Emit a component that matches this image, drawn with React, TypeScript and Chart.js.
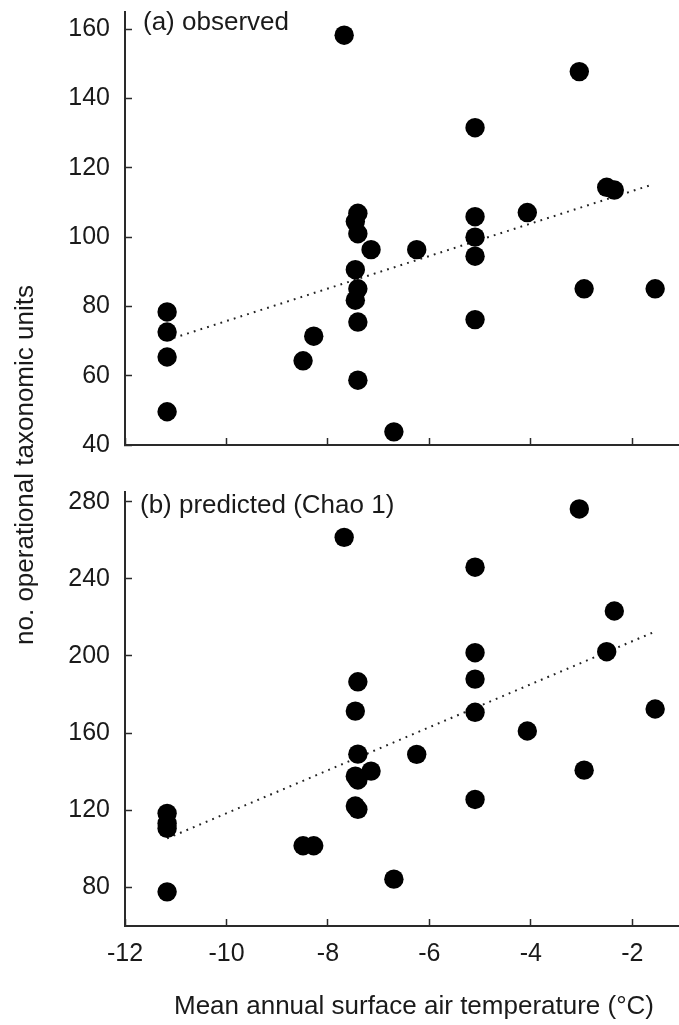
import React, { useEffect, useRef } from "react";
import { Chart, registerables } from "chart.js";

Chart.register(...registerables);

// ---------- data ----------
const xTicks = [-12, -10, -8, -6, -4, -2];
const observedYTicks = [40, 60, 80, 100, 120, 140, 160];
const predictedYTicks = [80, 120, 160, 200, 240, 280];

const X_MIN = -12;
const X_MAX = -1.08;
const OBS_MIN = 40;
const OBS_MAX = 165;
const PRED_MIN = 60;
const PRED_MAX = 285;

// (a) observed OTUs vs mean annual surface air temperature
const observedTemp = [
  -11.17, -11.17, -11.17, -11.17, -8.49, -8.28, -7.68,
  -7.41, -7.46, -7.41, -7.46, -7.41, -7.46, -7.41, -7.41,
  -7.15, -6.7, -6.25, -5.1, -5.1, -5.1, -5.1, -5.1,
  -4.07, -3.045, -2.95, -2.505, -2.355, -1.55,
];
const observedOTU = [
  78.4, 72.6, 65.4, 49.6, 64.3, 71.4, 158.3,
  106.9, 104.5, 101.0, 90.6, 85.1, 81.8, 75.5, 58.7,
  96.4, 43.8, 96.4, 131.6, 105.9, 100.0, 94.5, 76.2,
  107.1, 147.8, 85.1, 114.4, 113.6, 85.1,
];
const observedTrendTemp = [-11.17, -1.6];
const observedTrendOTU = [70.3, 115.2];

// (b) predicted (Chao 1)
const predictedTemp = [
  -11.17, -11.17, -11.17, -11.17, -8.49, -8.28, -7.68,
  -7.41, -7.46, -7.41, -7.46, -7.41, -7.46, -7.41,
  -7.15, -6.7, -6.25, -5.1, -5.1, -5.1, -5.1, -5.1,
  -4.07, -3.045, -2.95, -2.505, -2.355, -1.55,
];
const predictedOTU = [
  118.4, 113.2, 110.6, 77.7, 101.6, 101.6, 261.5,
  186.6, 171.4, 149.1, 137.7, 135.7, 122.2, 120.5,
  140.3, 84.3, 149.0, 246.0, 201.7, 188.0, 170.8, 125.6,
  161.1, 276.2, 140.8, 202.2, 223.3, 172.5,
];
const predictedTrendTemp = [-11.17, -1.6];
const predictedTrendOTU = [105.4, 212.1];

// ---------- styling ----------
const FONT = '"Liberation Sans", Arial, Helvetica, sans-serif';
const INK = "#1a1a1a";
const AXIS = "#2a2a2a";

function axisGrid() {
  return {
    display: true,
    drawOnChartArea: false,
    drawTicks: true,
    tickLength: -7,
    tickColor: AXIS,
    tickWidth: 1.5,
  };
}

function clearPadding(s: any) {
  s.paddingTop = 0;
  s.paddingBottom = 0;
  s.paddingLeft = 0;
  s.paddingRight = 0;
}

function buildConfig(
  xs: number[],
  ys: number[],
  trendX: number[],
  trendY: number[],
  yMin: number,
  yMax: number,
  yTicks: number[],
  showXLabels: boolean,
  xAxisHeight: number,
  padTop: number
): any {
  return {
    type: "scatter",
    data: {
      datasets: [
        {
          data: xs.map((x, i) => ({ x, y: ys[i] })),
          backgroundColor: "#000",
          borderColor: "#000",
          borderWidth: 0,
          pointRadius: 9.7,
          pointHoverRadius: 9.7,
          order: 0,
        },
        {
          data: trendX.map((x, i) => ({ x, y: trendY[i] })),
          showLine: true,
          borderColor: "#222",
          borderWidth: 2,
          borderDash: [1.8, 5.2],
          pointRadius: 0,
          pointHoverRadius: 0,
          fill: false,
          order: 1,
        },
      ],
    },
    options: {
      animation: false,
      responsive: false,
      devicePixelRatio: 1,
      events: [],
      layout: {
        autoPadding: false,
        padding: { top: padTop, left: 0, right: 0, bottom: 0 },
      },
      plugins: {
        legend: { display: false },
        tooltip: { enabled: false },
        title: { display: false },
      },
      scales: {
        x: {
          type: "linear",
          position: "bottom",
          min: X_MIN,
          max: X_MAX,
          afterBuildTicks: (s: any) => {
            s.ticks = xTicks.map((v) => ({ value: v }));
          },
          afterFit: (s: any) => {
            s.height = xAxisHeight;
            clearPadding(s);
          },
          grid: axisGrid(),
          border: { display: true, color: AXIS, width: 2 },
          ticks: {
            display: showXLabels,
            autoSkip: false,
            maxRotation: 0,
            color: INK,
            padding: 20,
            font: { family: FONT, size: 25, lineHeight: 1.2 },
            callback: (v: any) => String(v),
          },
        },
        y: {
          type: "linear",
          position: "left",
          min: yMin,
          max: yMax,
          afterBuildTicks: (s: any) => {
            s.ticks = yTicks.map((v) => ({ value: v }));
          },
          afterFit: (s: any) => {
            s.width = 125;
            clearPadding(s);
          },
          grid: axisGrid(),
          border: { display: true, color: AXIS, width: 2 },
          ticks: {
            autoSkip: false,
            color: INK,
            padding: 22,
            font: { family: FONT, size: 25, lineHeight: 1.2 },
            callback: (v: any) => String(v),
          },
        },
      },
    },
  };
}

export default function App() {
  const topRef = useRef<HTMLCanvasElement | null>(null);
  const bottomRef = useRef<HTMLCanvasElement | null>(null);

  useEffect(() => {
    const top = new Chart(
      topRef.current as HTMLCanvasElement,
      buildConfig(
        observedTemp,
        observedOTU,
        observedTrendTemp,
        observedTrendOTU,
        OBS_MIN,
        OBS_MAX,
        observedYTicks,
        false,
        25,
        12
      )
    );
    const bottom = new Chart(
      bottomRef.current as HTMLCanvasElement,
      buildConfig(
        predictedTemp,
        predictedOTU,
        predictedTrendTemp,
        predictedTrendOTU,
        PRED_MIN,
        PRED_MAX,
        predictedYTicks,
        true,
        99,
        22
      )
    );
    return () => {
      top.destroy();
      bottom.destroy();
    };
  }, []);

  const textBase: React.CSSProperties = {
    position: "absolute",
    fontFamily: FONT,
    fontSize: 26,
    lineHeight: "26px",
    height: 26,
    color: INK,
    whiteSpace: "nowrap",
  };

  return (
    <div
      style={{
        position: "absolute",
        left: 0,
        top: 0,
        width: 679,
        height: 1025,
        overflow: "hidden",
        background: "#fff",
      }}
    >
      <canvas
        ref={topRef}
        width={679}
        height={470}
        style={{ position: "absolute", left: 0, top: 0, width: 679, height: 470 }}
      />
      <canvas
        ref={bottomRef}
        width={679}
        height={555}
        style={{ position: "absolute", left: 0, top: 470, width: 679, height: 555 }}
      />
      <div style={{ ...textBase, left: 143, top: 8 }}>(a) observed</div>
      <div style={{ ...textBase, left: 140, top: 491 }}>(b) predicted (Chao 1)</div>
      <div
        style={{
          ...textBase,
          left: 24 - 250,
          top: 465 - 13,
          width: 500,
          textAlign: "center",
          transform: "rotate(-90deg)",
          transformOrigin: "50% 50%",
        }}
      >
        no. operational taxonomic units
      </div>
      <div
        style={{
          ...textBase,
          left: 414 - 300,
          top: 992,
          width: 600,
          textAlign: "center",
        }}
      >
        Mean annual surface air temperature (°C)
      </div>
    </div>
  );
}
